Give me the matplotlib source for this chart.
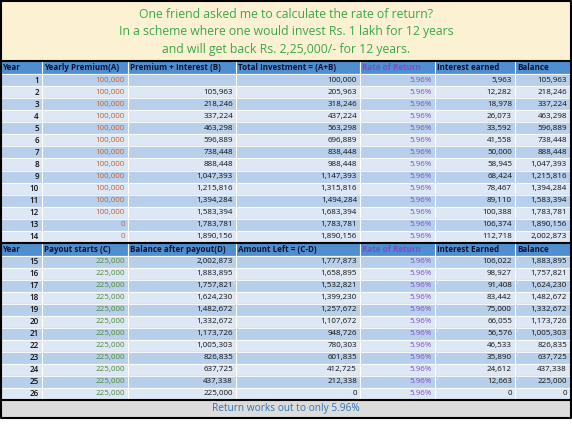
import matplotlib
matplotlib.use("Agg")
import matplotlib.pyplot as plt
from matplotlib.patches import Rectangle

title_lines = ["One friend asked me to calculate the rate of return?",
               "In a scheme where one would invest Rs. 1 lakh for 12 years",
               "and will get back Rs. 2,25,000/- for 12 years."]
headers1 = ["Year", "Yearly Premium(A)", "Premium + Interest (B)", "Total Investment = (A+B)",
            "Rate of Return", "Interest earned", "Balance"]
headers2 = ["Year", "Payout starts (C)", "Balance after payout(D)", "Amount Left = (C-D)",
            "Rate of Return", "Interest Earned", "Balance"]
years1 = list(range(1, 15))
premium = [100000]*12 + [0, 0]
prem_int = [None, 105963, 218246, 337224, 463298, 596889, 738448, 888448, 1047393,
            1215816, 1394284, 1583394, 1783781, 1890156]
total_inv = [100000, 205963, 318246, 437224, 563298, 696889, 838448, 988448, 1147393,
             1315816, 1494284, 1683394, 1783781, 1890156]
interest1 = [5963, 12282, 18978, 26073, 33592, 41558, 50000, 58945, 68424, 78467,
             89110, 100388, 106374, 112718]
balance1 = [105963, 218246, 337224, 463298, 596889, 738448, 888448, 1047393, 1215816,
            1394284, 1583394, 1783781, 1890156, 2002873]
years2 = list(range(15, 27))
payout = [225000]*12
bal_after = [2002873, 1883895, 1757821, 1624230, 1482672, 1332672, 1173726, 1005303,
             826835, 637725, 437338, 225000]
amount_left = [1777873, 1658895, 1532821, 1399230, 1257672, 1107672, 948726, 780303,
               601835, 412725, 212338, 0]
interest2 = [106022, 98927, 91408, 83442, 75000, 66055, 56576, 46533, 35890, 24612, 12663, 0]
balance2 = [1883895, 1757821, 1624230, 1482672, 1332672, 1173726, 1005303, 826835,
            637725, 437338, 225000, 0]
rate = "5.96%"
footer = "Return works out to only 5.96%"

W, H = 572, 433
fig = plt.figure(figsize=(W/100, H/100), dpi=100)
ax = fig.add_axes([0, 0, 1, 1])
ax.set_xlim(0, W); ax.set_ylim(H, 0); ax.axis("off")
font = "Open Sans"
cols = [0, 42, 128, 236, 360, 435, 515, 570]
hdr_c = "#4f8fd0"; dark = "#b7cfea"; light = "#dde8f4"

ax.add_patch(Rectangle((0, 0), W, H, color="white"))
ax.add_patch(Rectangle((2, 2), 568, 59, color="#fdf1d3"))
for i, t in enumerate(title_lines):
    ax.text(286, 15 + i*17, t, ha="center", va="center", color="#3aa849", fontsize=8.8, family=font)

def fmt(v):
    return "" if v is None else f"{v:,}"

def section(y0, headers, rows, rh, colors):
    ax.add_patch(Rectangle((0, y0), 570, 13, color=hdr_c))
    for j, h in enumerate(headers):
        ax.text(cols[j] + 2, y0 + 6.5, h, ha="left", va="center", fontsize=5.8, weight="bold",
                family=font, color="#7a4fc8" if j == 4 else "#101030")
    y = y0 + 13
    for r, row in enumerate(rows):
        ax.add_patch(Rectangle((0, y), 570, rh, color=dark if r % 2 == 0 else light))
        for j, v in enumerate(row):
            ax.text(cols[j+1] - 3, y + rh/2, v, ha="right", va="center", fontsize=5.8,
                    family=font, color=colors[j], weight="semibold" if j == 0 else "normal")
        ax.plot([0, 570], [y, y], color="white", lw=0.6)
        y += rh
    for x in cols[1:-1]:
        ax.plot([x, x], [y0, y], color="white", lw=0.8)
    ax.plot([0, 570], [y0, y0], color="black", lw=1.5)
    return y

rows1 = [[str(years1[i]), fmt(premium[i]), fmt(prem_int[i]), fmt(total_inv[i]), rate,
          fmt(interest1[i]), fmt(balance1[i])] for i in range(14)]
c1 = ["#111", "#c0623a", "#111", "#111", "#7a4fc8", "#111", "#111"]
y = section(61, headers1, rows1, 12.07, c1)
rows2 = [[str(years2[i]), fmt(payout[i]), fmt(bal_after[i]), fmt(amount_left[i]), rate,
          fmt(interest2[i]), fmt(balance2[i])] for i in range(12)]
c2 = ["#111", "#4f8a3a", "#111", "#111", "#7a4fc8", "#111", "#111"]
y = section(y, headers2, rows2, 12.0, c2)
ax.plot([0, 570], [y, y], color="black", lw=1.5)
ax.add_patch(Rectangle((2, y+1), 568, 16, color="#dcdcdc"))
ax.text(286, y + 9, footer, ha="center", va="center", color="#2f75b5", fontsize=7.3, family=font)
ax.plot([1, 1, 571, 571, 1], [1, y + 18, y + 18, 1, 1], color="black", lw=1.5)
fig.savefig("out.png", dpi=100)
